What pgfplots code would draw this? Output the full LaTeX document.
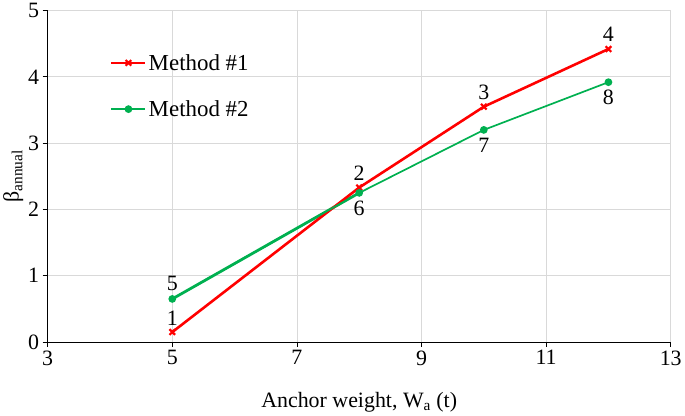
\documentclass[border=0pt]{standalone}
\usepackage{pgfplots}
\pgfplotsset{compat=1.18}
\usepackage{fontspec}
\setmainfont{Liberation Serif}
\definecolor{mred}{HTML}{FF0000}
\definecolor{mgreen}{HTML}{00B050}
\definecolor{gridc}{HTML}{D9D9D9}
\begin{document}
\begin{tikzpicture}
\begin{axis}[
  scale only axis,
  width=626pt, height=333pt,
  xmin=3, xmax=13, ymin=0, ymax=5,
  xtick={3,5,7,9,11,13}, ytick={0,1,2,3,4,5},
  axis x line=bottom, axis y line=left,
  axis line style={-, black, line width=0.8pt},
  tick align=outside,
  major tick length=5pt,
  tick style={black, line width=0.8pt},
  grid=major,
  major grid style={gridc, line width=0.8pt},
  /pgf/number format/assume math mode=true,
  ticklabel style={font=\fontsize{22}{26}\selectfont},
  label style={font=\fontsize{22}{26}\selectfont},
  xlabel={Anchor weight, W\textsubscript{a} (t)},
  ylabel={β\textsubscript{annual}},
  xlabel style={yshift=-20pt},
  ylabel style={yshift=-2pt},
  legend style={draw=none, fill=none, at={(0.1,0.875)}, anchor=north west,
    row sep=25pt, font=\fontsize{23}{27}\selectfont, inner sep=0pt},
  legend cell align=left,
  legend image code/.code={\draw[#1, mark repeat=2, mark phase=2] plot coordinates {(0cm,0cm) (0.6cm,0cm) (1.2cm,0cm)};},
  every node near coord/.append style={font=\fontsize{22}{26}\selectfont, black},
  clip=false,
]
\addplot[mgreen, line width=2.8pt, forget plot] coordinates {(5,0.65) (8,2.25)};
\addplot[mred, line width=2.6pt, mark=x, mark size=4pt, mark options={line width=2.2pt},
  nodes near coords, point meta=explicit symbolic,
  every node near coord/.append style={anchor=south, inner sep=6pt}]
  table[x=x, y=y, meta=lab] {
x y lab
5 0.15 1
8 2.33 2
10 3.55 3
12 4.42 4
};
\addlegendentry{Method \#1}
\addplot[mgreen, line width=1.7pt, mark=*, mark size=3pt,
  nodes near coords, point meta=explicit symbolic,
  visualization depends on={value \thisrow{pos} \as \pp},
  every node near coord/.append style={anchor=\pp, inner sep=7pt}]
  table[x=x, y=y, meta=lab] {
x y lab pos
5 0.65 5 south
8 2.25 6 north
10 3.2 7 north
12 3.92 8 north
};
\addlegendentry{Method \#2}
\end{axis}
\end{tikzpicture}
\end{document}
